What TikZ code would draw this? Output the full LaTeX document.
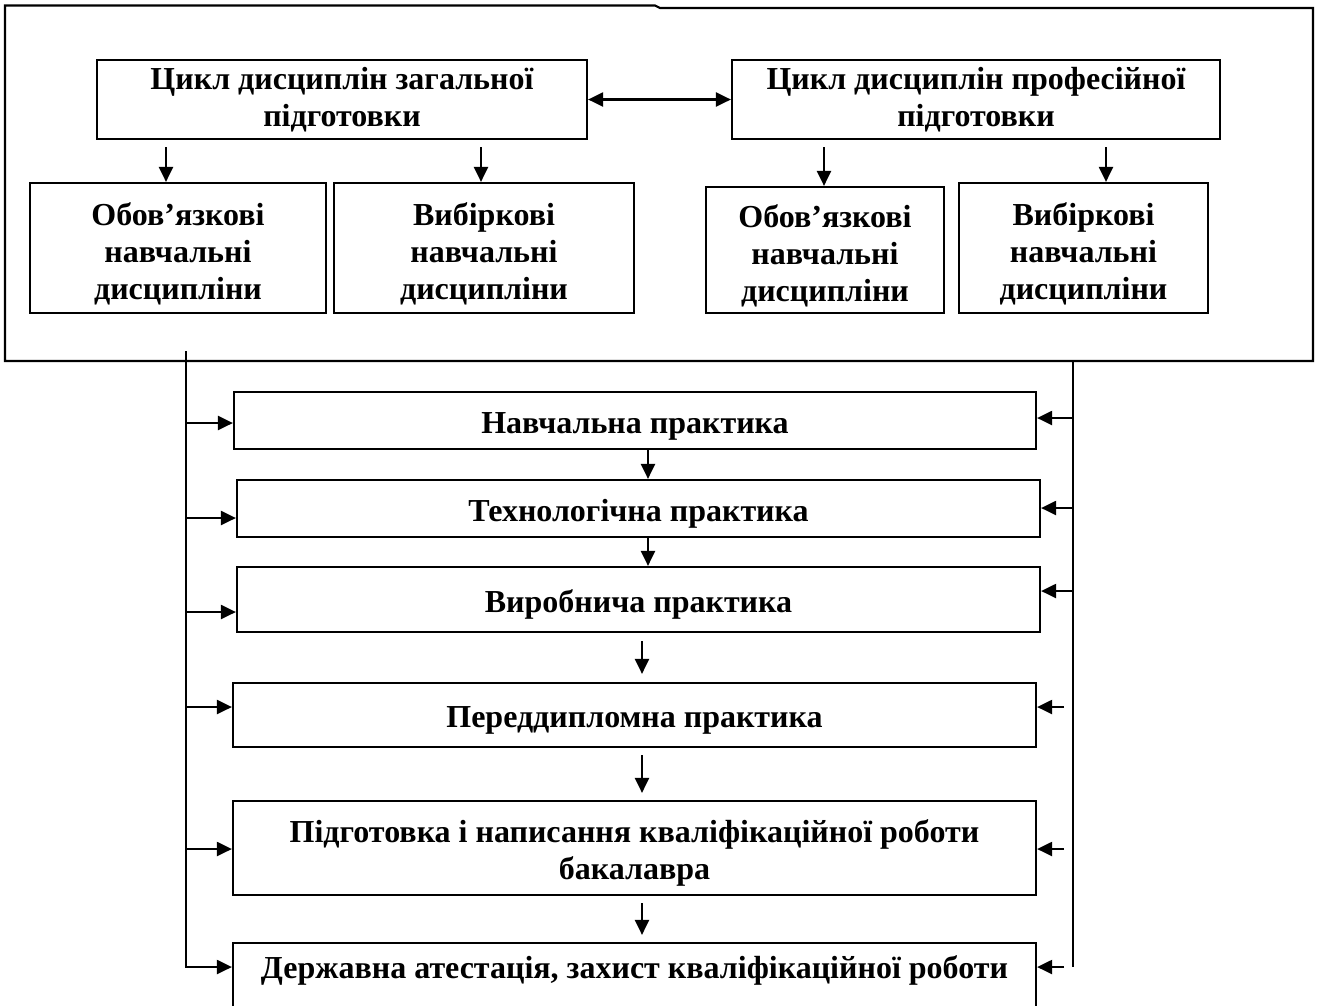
\documentclass[tikz,border=0pt]{standalone}
\usepackage{fontspec}
\setmainfont{Liberation Serif}
\usetikzlibrary{arrows.meta}
\tikzset{
  box/.style={draw, line width=2.2pt, align=center, inner sep=2pt,
    font=\bfseries\fontsize{32}{37}\selectfont},
  one/.style={text height=32pt},
  arr/.style={line width=2.2pt, -{Triangle[length=15pt,width=14pt]}},
  bus/.style={line width=2.2pt},
}
\begin{document}
\begin{tikzpicture}[x=1pt,y=-1pt]
  \useasboundingbox (0,0) rectangle (1317,1005);
  % outer frame
  \draw[bus] (5,5.5) -- (655,5.5) -- (660,8) -- (1313,8) -- (1313,361) -- (5,361) -- cycle;
  % cycles
  \node[box, minimum width=490pt, minimum height=79pt] (zag) at (342,99.5) {Цикл дисциплін загальної\\підготовки};
  \node[box, minimum width=488pt, minimum height=79pt] (prof) at (976,99.5) {Цикл дисциплін професійної\\підготовки};
  \node[box, minimum width=296pt, minimum height=130pt, text height=108pt] (obovA) at (178,248) {Обов’язкові\\навчальні\\дисципліни};
  \node[box, minimum width=300pt, minimum height=130pt, text height=108pt] (vybA) at (484,248) {Вибіркові\\навчальні\\дисципліни};
  \node[box, minimum width=238pt, minimum height=126pt, text height=108pt] (obovB) at (825,250) {Обов’язкові\\навчальні\\дисципліни};
  \node[box, minimum width=249pt, minimum height=130pt, text height=108pt] (vybB) at (1083.5,248) {Вибіркові\\навчальні\\дисципліни};
  % practice
  \node[box, one, minimum width=802pt, minimum height=57pt] (nav) at (635,420.5) {Навчальна практика};
  \node[box, one, minimum width=803pt, minimum height=57pt] (tech) at (638.5,508.5) {Технологічна практика};
  \node[box, one, minimum width=803pt, minimum height=65pt] (vyr) at (638.5,599.5) {Виробнича практика};
  \node[box, one, minimum width=803pt, minimum height=64pt] (pered) at (634.5,715) {Переддипломна практика};
  \node[box, minimum width=803pt, minimum height=94pt, text height=70pt] (pidg) at (634.5,848) {Підготовка і написання кваліфікаційної роботи\\бакалавра};
  \node[box, minimum width=803pt, minimum height=70pt, text height=24pt, text depth=24pt] (derzh) at (634.5,978) {Державна атестація, захист кваліфікаційної роботи};

  \draw[arr, {Triangle[length=15pt,width=14pt]}-{Triangle[length=15pt,width=14pt]}] (zag.east) -- (prof.west);
  \foreach \a/\b/\x in {zag/obovA/166, zag/vybA/481, prof/obovB/824, prof/vybB/1106}
    \draw[arr, shorten <=7pt] (\a.south -| \x,0) -- (\b.north -| \x,0);
  \foreach \a/\b/\x/\s in {nav/tech/648/0pt, tech/vyr/648/0pt, vyr/pered/642/8pt, pered/pidg/642/7pt, pidg/derzh/642/7pt}
    \draw[arr, shorten <=\s, shorten >=\s] (\a.south -| \x,0) -- (\b.north -| \x,0);

  % side lines
  \coordinate (ltop) at (186,351);
  \coordinate (lbot) at (186,968);
  \coordinate (rtop) at (1073,361);
  \coordinate (rbot) at (1073,967);
  \coordinate (rstub) at (1064,0);
  \draw[bus] (ltop) -- (lbot);
  \draw[bus] (rtop) -- (rbot);
  \foreach \n/\y in {nav/423, tech/518, vyr/612, pered/707, pidg/849, derzh/967}
    \draw[arr] (ltop |- 0,\y) -- (\n.west |- 0,\y);
  \foreach \n/\y in {nav/418, tech/508, vyr/591}
    \draw[arr] (rtop |- 0,\y) -- (\n.east |- 0,\y);
  \foreach \n/\y in {pered/707, pidg/849, derzh/967}
    \draw[arr] (rstub |- 0,\y) -- (\n.east |- 0,\y);
\end{tikzpicture}
\end{document}
